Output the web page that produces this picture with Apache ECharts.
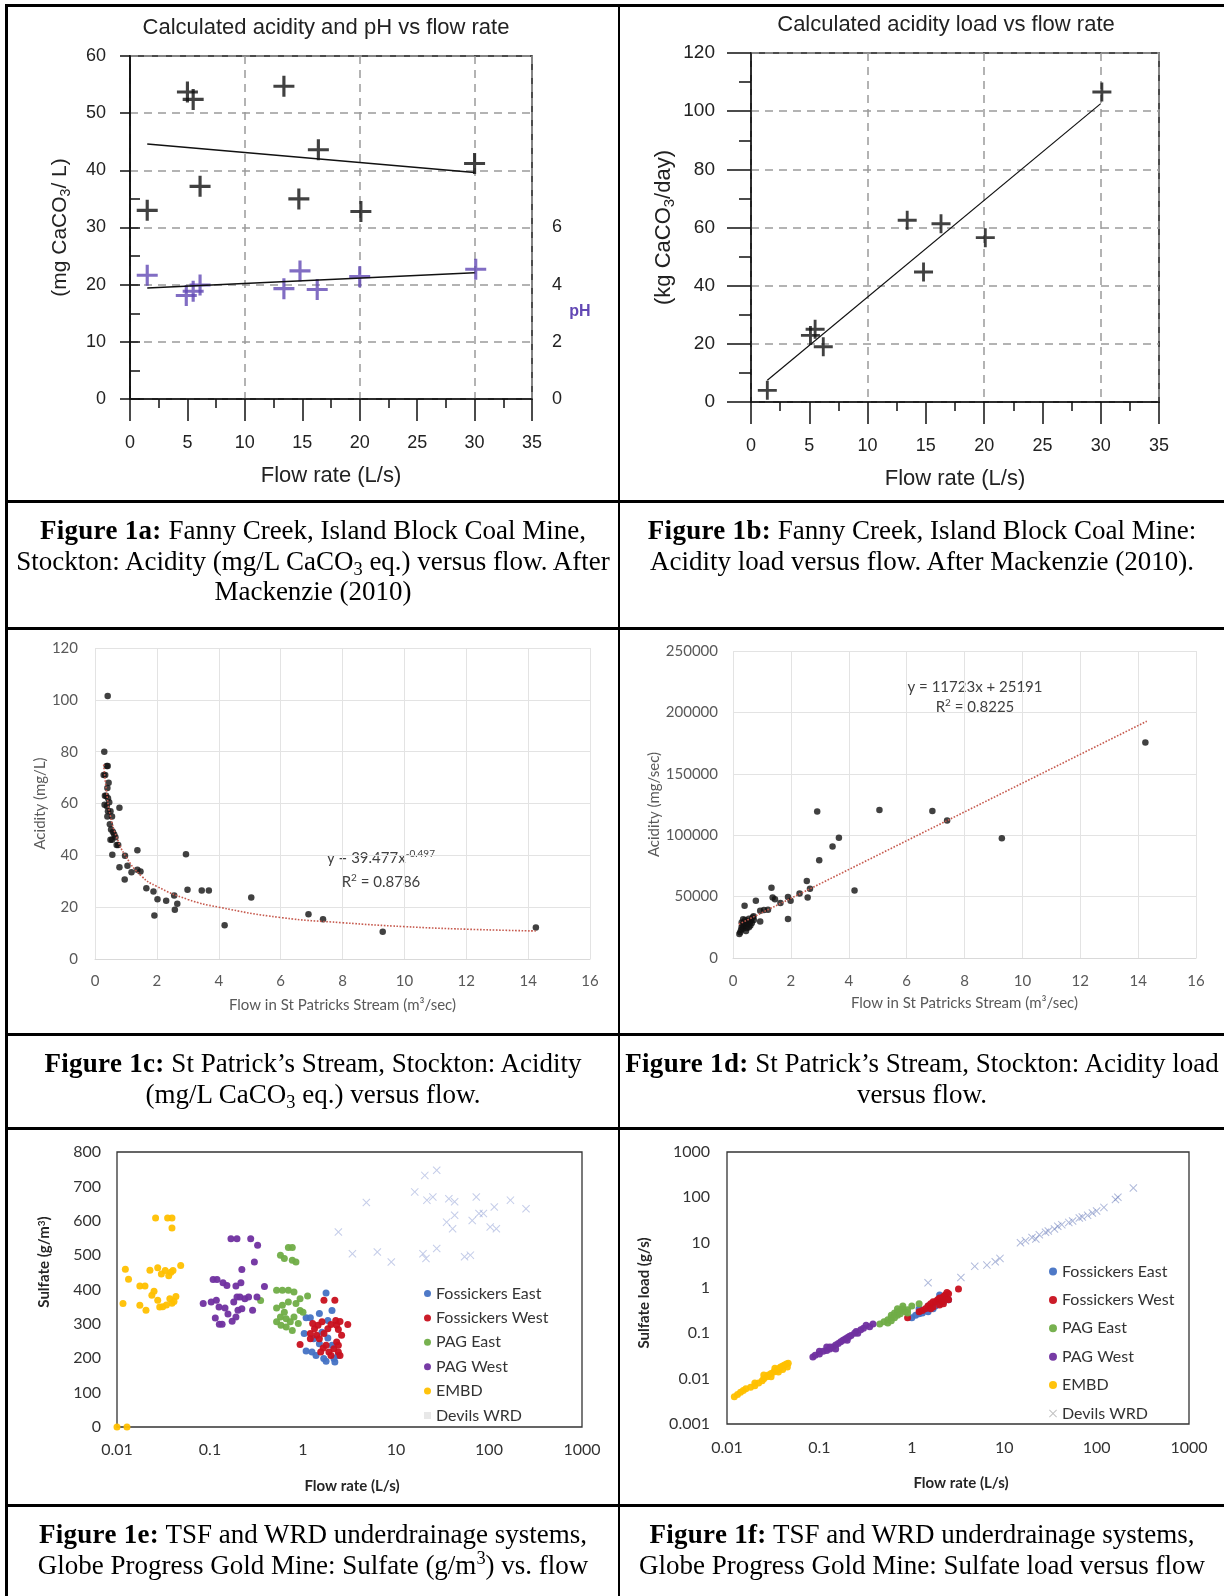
<!DOCTYPE html>
<html>
<head>
<meta charset="utf-8">
<script src="https://cdn.jsdelivr.net/npm/echarts@6/dist/echarts.min.js"></script>
<style>
  html, body { margin: 0; padding: 0; background: #fff; }
  #page { position: relative; width: 1224px; height: 1596px; overflow: hidden; }
  #chart { position: absolute; left: 0; top: 0; width: 1224px; height: 1596px; }
  .hl, .vl { position: absolute; background: #000; }
  .hl { left: 5px; width: 1219px; height: 3px; }
  .cap { position: absolute; text-align: center; white-space: nowrap; font-family: "Liberation Serif", serif;
         font-size: 27px; line-height: 30.5px; color: #000; }
  .cap b { letter-spacing: 0.3px; }
  .cap sub, .cap sup { font-size: 0.68em; line-height: 0; }
  .cap sub { vertical-align: -0.25em; }
  .cap sup { vertical-align: 0.55em; }
</style>
</head>
<body>
<div id="page">
  <div id="chart"></div>
  <div class="hl" style="top:4px"></div>
  <div class="hl" style="top:500px"></div>
  <div class="hl" style="top:627px"></div>
  <div class="hl" style="top:1033px"></div>
  <div class="hl" style="top:1127px"></div>
  <div class="hl" style="top:1504px"></div>
  <div class="vl" style="left:5px;top:4px;width:3px;height:1592px"></div>
  <div class="vl" style="left:618px;top:4px;width:2px;height:1592px"></div>

  <div class="cap" style="left:8px;top:515px;width:610px"><b>Figure 1a:</b> Fanny Creek, Island Block Coal Mine,<br>Stockton: Acidity (mg/L CaCO<sub>3</sub> eq.) versus flow. After<br>Mackenzie (2010)</div>
  <div class="cap" style="left:620px;top:515px;width:604px"><b>Figure 1b:</b> Fanny Creek, Island Block Coal Mine:<br>Acidity load versus flow. After Mackenzie (2010).</div>
  <div class="cap" style="left:8px;top:1048px;width:610px"><b>Figure 1c:</b> St Patrick’s Stream, Stockton: Acidity<br>(mg/L CaCO<sub>3</sub> eq.) versus flow.</div>
  <div class="cap" style="left:620px;top:1048px;width:604px"><b>Figure 1d:</b> St Patrick’s Stream, Stockton: Acidity load<br>versus flow.</div>
  <div class="cap" style="left:8px;top:1519px;width:610px"><b>Figure 1e:</b> TSF and WRD underdrainage systems,<br>Globe Progress Gold Mine: Sulfate (g/m<sup>3</sup>) vs. flow</div>
  <div class="cap" style="left:620px;top:1519px;width:604px"><b>Figure 1f:</b> TSF and WRD underdrainage systems,<br>Globe Progress Gold Mine: Sulfate load versus flow</div>
</div>
<script>
'use strict';

// ---- fonts / palette ----
const SANS = 'Liberation Sans';
const CAL = 'Lato';
const C = { ink: '#111', ph: '#6248b4', grid: '#9a9a9a', light: '#e3e3e3', trend: '#c65a4e',
  fosE: '#4472c4', fosW: '#c8101e', pagE: '#70ad47', pagW: '#7030a0', embd: '#ffc000', devils: 'rgba(110,130,200,0.5)' };
const PLUS = 'path://M4.25,0H5.75V4.25H10V5.75H5.75V10H4.25V5.75H0V4.25H4.25Z';
const XMARK = 'path://M0,0.9L0.9,0L5,4.1L9.1,0L10,0.9L5.9,5L10,9.1L9.1,10L5,5.9L0.9,10L0,9.1L4.1,5Z';

// ---- 1a: acidity and pH vs flow (Fanny Creek) ----
const aFlow = [1.5, 5.0, 5.5, 6.1, 13.4, 14.7, 16.4, 20.1, 30.0];
const aAcid = [33.0, 53.7, 52.4, 37.2, 54.7, 35.0, 43.6, 32.8, 41.2];
const aPhFlow = [1.5, 4.9, 5.5, 6.1, 13.4, 14.8, 16.3, 20.0, 30.1];
const aPh = [4.33, 3.62, 3.77, 3.99, 3.86, 4.48, 3.83, 4.28, 4.54];
const aAcidTrendX = [1.5, 30];
const aAcidTrendY = [44.6, 39.6];
const aPhTrendX = [1.5, 30];
const aPhTrendY = [3.88, 4.42];
const aPhTicks = [0, 1, 2, 3, 4, 5, 6, 7];
const aPhLabels = [0, 2, 4, 6];

// ---- 1b: acidity load vs flow ----
const bFlow = [1.4, 5.1, 5.5, 6.2, 13.4, 14.8, 16.3, 20.1, 30.1];
const bLoad = [4.0, 22.9, 25.0, 19.0, 62.5, 44.7, 61.3, 56.5, 106.6];
const bTrendX = [1.4, 30];
const bTrendY = [7.5, 102.6];

// ---- 1c: St Patricks acidity vs flow ----
const cFlow = [0.41, 0.30, 0.28, 0.33, 0.38, 0.41, 0.44, 0.40, 0.32, 0.36, 0.42, 0.31, 0.38, 0.46, 0.42,
  0.50, 0.40, 0.55, 0.48, 0.52, 0.58, 0.62, 0.66, 0.55, 0.50, 0.70, 0.75, 0.79, 0.56, 0.79,
  0.97, 1.05, 0.96, 1.18, 1.37, 1.37, 1.47, 1.66, 1.89, 1.92, 2.02, 2.30, 2.56, 2.58, 2.66,
  2.94, 2.99, 3.45, 3.68, 4.19, 5.05, 6.90, 7.37, 9.30, 14.25];
const cAcid = [101.5, 80, 71, 71, 74.5, 74.5, 68, 66, 63, 63, 62, 59.5, 59, 60.5, 57,
  57, 55, 55, 52, 50, 49, 48, 47, 46, 46, 44, 44, 58.4, 40.2, 35.4,
  39.8, 36, 30.7, 33.5, 42, 34.4, 33.8, 27.3, 26, 16.8, 23.1, 22.5, 24.5, 19, 21.3,
  40.4, 26.7, 26.4, 26.4, 13, 23.7, 17.3, 15.3, 10.5, 12.2];
const cTrendX = [0.28, 0.4, 0.5, 0.7, 1, 1.5, 2, 3, 4, 6, 8, 10, 12, 14.3];
const cTrendY = [75, 62, 55, 47, 39.5, 32, 28, 23, 20, 16, 14, 12.5, 11.5, 10.8];

// ---- 1d: St Patricks acidity load vs flow ----
const dFlow = [14.25, 2.91, 5.06, 6.89, 7.40, 9.29, 3.66, 3.44, 2.98, 4.20, 2.55, 2.66, 2.58, 2.30, 1.90,
  1.99, 1.90, 1.64, 1.45, 1.37, 1.33, 0.40, 0.79, 0.94, 1.07, 1.21, 0.94, 0.71, 0.22, 0.25,
  0.28, 0.30, 0.33, 0.35, 0.38, 0.40, 0.42, 0.45, 0.48, 0.50, 0.52, 0.55, 0.58, 0.60, 0.62,
  0.65, 0.68, 0.72, 0.30, 0.35, 0.45, 0.55];
const dAcid = [175500, 119200, 120500, 119700, 111900, 97500, 98000, 90700, 79600, 55000, 62800, 56300, 49300, 52500, 49600,
  46600, 31700, 44700, 47900, 49300, 57200, 42500, 46600, 38500, 39000, 39300, 29800, 33900, 19500, 21000,
  23000, 25500, 27000, 24000, 29000, 26000, 31000, 28000, 24500, 30000, 27500, 32000, 29500, 26500, 30500,
  28500, 33000, 31000, 29000, 31500, 22000, 25000];
const dTrendX = [0.2, 14.3];
const dTrendY = [27500, 192800];

// ---- 1e: sulfate vs flow (Globe Progress) ----
const SERIES = ['Fossickers East', 'Fossickers West', 'PAG East', 'PAG West', 'EMBD', 'Devils WRD'];
const eFosEX = [1.77, 1.08, 1.2, 1.03, 1.08, 1.25, 1.38, 1.67, 1.77, 2.2, 2.37, 1.85, 1.6, 1.5, 2.05, 1.85, 2.05, 1.5, 1.3, 2.15];
const eFosEY = [390, 318, 318, 272, 221, 218, 208, 199, 191, 189, 208, 259, 276, 242, 238, 310, 339, 330, 257, 199];
const eFosWX = [1.68, 2.2, 3.03, 0.93, 1.2, 1.2, 1.33, 1.45, 1.6, 1.27, 1.68, 1.85, 2.0, 2.25, 2.5,
  2.3, 2.4, 1.77, 1.9, 2.0, 2.15, 2.3, 2.4, 1.55, 1.65, 2.4, 2.5, 1.5, 1.4, 2.6];
const eFosWY = [369, 369, 298, 240, 257, 272, 286, 296, 306, 301, 272, 286, 298, 310, 307,
  296, 284, 238, 218, 208, 228, 247, 238, 218, 230, 218, 208, 257, 267, 267];
const ePagEX = [0.696, 0.767, 0.572, 0.63, 0.767, 0.84, 0.35, 0.52, 0.60, 0.696, 0.80, 0.52, 0.60, 0.696, 0.84,
  0.93, 0.572, 0.66, 0.73, 0.80, 0.52, 0.58, 0.66, 0.767, 0.93, 1.0, 1.12, 0.89, 0.63];
const ePagEY = [522, 522, 500, 490, 485, 480, 368, 398, 398, 398, 393, 346, 354, 364, 359,
  373, 320, 315, 306, 320, 306, 296, 291, 281, 339, 334, 381, 301, 334];
const ePagWX = [0.168, 0.195, 0.274, 0.325, 0.30, 0.22, 0.108, 0.119, 0.138, 0.152, 0.19, 0.215, 0.385, 0.0845, 0.103,
  0.117, 0.125, 0.145, 0.114, 0.126, 0.135, 0.156, 0.173, 0.19, 0.20, 0.22, 0.287, 0.195, 0.21, 0.237, 0.26, 0.32, 0.18];
const ePagWY = [548, 548, 548, 529, 480, 458, 429, 429, 420, 412, 410, 420, 409, 359, 364,
  369, 349, 346, 317, 299, 299, 329, 308, 320, 340, 344, 340, 378, 378, 373, 378, 378, 364];
const eEmbX = [0.026, 0.035, 0.039, 0.039, 0.0123, 0.0133, 0.0176, 0.02, 0.0116, 0.0176, 0.0205, 0.0237, 0.0274, 0.0288, 0.0226,
  0.0274, 0.03, 0.033, 0.036, 0.038, 0.04, 0.0484, 0.037, 0.039, 0.041, 0.031, 0.034, 0.043, 0.025, 0.01, 0.0128];
const eEmbY = [608, 608, 608, 579, 459, 430, 410, 410, 359, 354, 340, 383, 369, 349, 456,
  463, 445, 455, 440, 450, 455, 470, 373, 360, 365, 350, 355, 380, 395, 0, 0];
const eDevX = [2.4, 3.4, 4.8, 6.3, 8.9, 15.9, 20.4, 21.5, 24.9, 27.4, 19.5, 21, 27.4, 37, 42.7,
  35, 42.7, 40.6, 54.6, 63, 73, 66, 78, 87, 103, 114, 120, 170, 250];
const eDevY = [567, 504, 653, 509, 480, 684, 732, 660, 669, 747, 504, 490, 519, 664, 655,
  596, 616, 577, 495, 500, 669, 601, 621, 621, 582, 640, 577, 660, 635];
const eXTicks = [0.01, 0.1, 1, 10, 100, 1000];

// ---- 1f: sulfate load vs flow ----
const fFosEX = [1.1, 1.2, 1.3, 1.5, 1.7, 1.8, 2.0, 2.2, 2.0, 2.3, 1.2, 1.5, 1.0, 2.5];
const fFosEY = [0.25, 0.27, 0.28, 0.3, 0.35, 0.4, 0.45, 0.5, 0.7, 0.6, 0.35, 0.4, 0.22, 0.55];
const fFosWX = [0.9, 1.2, 1.4, 1.5, 1.6, 1.7, 1.8, 1.9, 2.0, 2.1, 2.2, 2.3, 2.4, 2.5, 1.7, 2.0, 2.2, 2.5, 3.2, 1.3, 1.6, 2.4];
const fFosWY = [0.22, 0.3, 0.35, 0.4, 0.45, 0.38, 0.5, 0.55, 0.6, 0.5, 0.65, 0.7, 0.6, 0.75, 0.5, 0.42, 0.45, 0.55, 0.95, 0.32, 0.35, 0.8];
const fPagEX = [0.5, 0.55, 0.6, 0.6, 0.65, 0.7, 0.75, 0.8, 0.85, 0.9, 0.7, 0.65, 0.55, 0.6, 0.75, 0.8, 0.7, 0.9, 1.2, 1.0, 0.45];
const fPagEY = [0.18, 0.2, 0.22, 0.25, 0.28, 0.3, 0.32, 0.35, 0.3, 0.33, 0.25, 0.22, 0.17, 0.19, 0.27, 0.4, 0.35, 0.28, 0.45, 0.4, 0.16];
const fPagWX = [0.085, 0.09, 0.10, 0.11, 0.12, 0.12, 0.13, 0.14, 0.15, 0.16, 0.17, 0.18, 0.19, 0.20,
  0.21, 0.22, 0.24, 0.25, 0.26, 0.28, 0.30, 0.32, 0.35, 0.38, 0.15, 0.20, 0.10, 0.13];
const fPagWY = [0.03, 0.033, 0.035, 0.04, 0.042, 0.05, 0.045, 0.05, 0.055, 0.06, 0.065, 0.07, 0.075, 0.08,
  0.085, 0.09, 0.10, 0.11, 0.10, 0.12, 0.13, 0.15, 0.14, 0.16, 0.045, 0.07, 0.04, 0.05];
const fEmbX = [0.012, 0.013, 0.014, 0.016, 0.018, 0.02, 0.022, 0.024, 0.025, 0.027, 0.028, 0.03, 0.032, 0.034, 0.035,
  0.037, 0.038, 0.04, 0.042, 0.044, 0.046, 0.03, 0.036, 0.04, 0.025, 0.033, 0.045, 0.02, 0.015];
const fEmbY = [0.004, 0.0045, 0.005, 0.006, 0.0065, 0.007, 0.008, 0.009, 0.01, 0.011, 0.012, 0.013, 0.014, 0.015, 0.016,
  0.017, 0.018, 0.019, 0.02, 0.021, 0.022, 0.011, 0.014, 0.016, 0.012, 0.017, 0.018, 0.008, 0.0055];
const fDevX = [1.5, 3.4, 4.8, 6.5, 8, 9, 15, 17, 20, 22, 24, 28, 30, 35, 38, 42, 50, 55, 65, 70, 80, 90, 100, 120, 160, 170, 250];
const fDevY = [1.3, 1.7, 3.0, 3.2, 3.8, 4.5, 10, 11, 13, 12, 15, 17, 18, 20, 23, 25, 28, 30, 35, 37, 40, 45, 50, 60, 90, 100, 160];

// ---- helpers ----
const zip = (xs, ys) => xs.map((x, i) => [x, ys[i]]);
const plain = v => String(parseFloat(Number(v).toPrecision(6)));
const blackLine = { color: C.ink, width: 1.5 };
const dashed = { type: [8, 6], color: C.grid, width: 1.5 };
const subRich = (size, color, family) => ({
  a: { fontSize: size, fontFamily: family, color, lineHeight: size + 4, verticalAlign: 'middle' },
  s: { fontSize: Math.round(size * 0.68), fontFamily: family, color, lineHeight: Math.round(size * 0.68), verticalAlign: 'bottom' },
  p: { fontSize: Math.round(size * 0.68), fontFamily: family, color, lineHeight: Math.round(size * 0.68), verticalAlign: 'top' },
});
const txt = (x, y, text, size, family, extra = {}) => ({
  type: 'text', x, y, rotation: extra.rotation || 0, silent: true,
  style: { text, fontSize: size, fontFamily: family, fontWeight: extra.weight || 'normal', fill: extra.color || '#222',
    align: 'center', verticalAlign: 'middle', textAlign: 'center', textVerticalAlign: 'middle',
    rich: extra.rich },
});

// SigmaPlot-style axes (1a, 1b)
const spX = (grid, name) => ({
  gridIndex: grid, type: 'value', min: 0, max: 35, interval: 5,
  axisLine: { lineStyle: blackLine }, axisTick: { length: 22, lineStyle: blackLine },
  minorTick: { show: true, splitNumber: 2, length: 9, lineStyle: blackLine },
  axisLabel: { margin: 35, fontSize: 18, color: '#222', fontFamily: SANS },
  splitLine: { show: false },
  name, nameLocation: 'middle', nameGap: 66, nameTextStyle: { fontSize: 22, fontFamily: SANS, color: '#222' },
});
const spGridX = grid => ({
  gridIndex: grid, type: 'value', min: 0, max: 35, interval: 10,
  axisLine: { show: false }, axisTick: { show: false }, axisLabel: { show: false },
  splitLine: { show: true, lineStyle: dashed },
});

// Excel-style axes (1c, 1d)
const xlAxisText = { fontSize: 15, color: '#595959', fontFamily: CAL };
const eqRich = subRich(15, '#404040', CAL);

const scatterE = (name, xs, ys, color, grid) => ({
  name, type: 'scatter', xAxisIndex: grid === 'e' ? 6 : 7, yAxisIndex: grid === 'e' ? 5 : 6,
  data: zip(xs, ys), symbol: 'circle', symbolSize: 7, itemStyle: { color, opacity: 0.95 },
});

const chart = echarts.init(document.getElementById('chart'), null, { renderer: 'canvas' });
chart.setOption({
  animation: false,
  backgroundColor: '#fff',
  grid: [
    { left: 130, top: 56, width: 402, height: 343, show: true, borderColor: C.ink, borderWidth: 1.5 },
    { left: 751, top: 53, width: 408, height: 349, show: true, borderColor: C.ink, borderWidth: 1.5 },
    { left: 95, top: 648, width: 495, height: 311 },
    { left: 733, top: 651, width: 463, height: 307 },
    { left: 117, top: 1152, width: 465, height: 275, show: true, borderColor: '#333', borderWidth: 1.3 },
    { left: 727, top: 1152, width: 462, height: 272, show: true, borderColor: '#333', borderWidth: 1.3 },
  ],
  xAxis: [
    spX(0, 'Flow rate (L/s)'),
    spGridX(0),
    spX(1, 'Flow rate (L/s)'),
    spGridX(1),
    { gridIndex: 2, type: 'value', min: 0, max: 16, interval: 2,
      axisLine: { lineStyle: { color: '#d9d9d9' } }, axisTick: { show: false },
      axisLabel: { ...xlAxisText, margin: 15 }, splitLine: { lineStyle: { color: C.light } },
      name: 'Flow in St Patricks Stream (m³/sec)', nameLocation: 'middle', nameGap: 39, nameTextStyle: xlAxisText },
    { gridIndex: 3, type: 'value', min: 0, max: 16, interval: 2,
      axisLine: { lineStyle: { color: '#d9d9d9' } }, axisTick: { show: false },
      axisLabel: { ...xlAxisText, margin: 16 }, splitLine: { lineStyle: { color: C.light } },
      name: 'Flow in St Patricks Stream (m³/sec)', nameLocation: 'middle', nameGap: 38, nameTextStyle: xlAxisText },
    { gridIndex: 4, type: 'log', logBase: 10, min: 0.01, max: 1000,
      axisLine: { show: false }, axisTick: { show: false }, splitLine: { show: false },
      axisLabel: { margin: 15, fontSize: 16, color: '#333', fontFamily: CAL, customValues: eXTicks, formatter: plain } },
    { gridIndex: 5, type: 'log', logBase: 10, min: 0.01, max: 1000,
      axisLine: { show: false }, axisTick: { show: false }, splitLine: { show: false },
      axisLabel: { margin: 16, fontSize: 16, color: '#333', fontFamily: CAL, customValues: eXTicks, formatter: plain } },
  ],
  yAxis: [
    { gridIndex: 0, type: 'value', min: 0, max: 60, interval: 10,
      axisLine: { lineStyle: blackLine }, axisTick: { length: 10, lineStyle: blackLine },
      axisLabel: { margin: 24, fontSize: 18, color: '#222', fontFamily: SANS },
      splitLine: { show: true, lineStyle: dashed },
      name: '{a|(mg CaCO}{s|3}{a|/ L)}', nameLocation: 'middle', nameGap: 57,
      nameTextStyle: { rich: subRich(21, '#222', SANS) } },
    { gridIndex: 0, type: 'value', position: 'right', min: 0, max: 12, interval: 1,
      axisLine: { lineStyle: blackLine },
      axisTick: { length: 10, lineStyle: blackLine, customValues: aPhTicks },
      axisLabel: { margin: 20, fontSize: 18, color: '#222', fontFamily: SANS, customValues: aPhLabels },
      splitLine: { show: false } },
    { gridIndex: 1, type: 'value', min: 0, max: 120, interval: 20,
      axisLine: { lineStyle: blackLine }, axisTick: { length: 24, lineStyle: blackLine },
      minorTick: { show: true, splitNumber: 2, length: 12, lineStyle: blackLine },
      axisLabel: { margin: 36, fontSize: 19, color: '#222', fontFamily: SANS },
      splitLine: { show: true, lineStyle: dashed },
      name: '{a|(kg CaCO}{s|3}{a|/day)}', nameLocation: 'middle', nameGap: 74,
      nameTextStyle: { rich: subRich(22, '#222', SANS) } },
    { gridIndex: 2, type: 'value', min: 0, max: 120, interval: 20,
      axisLine: { show: false }, axisTick: { show: false },
      axisLabel: { ...xlAxisText, margin: 17 }, splitLine: { lineStyle: { color: C.light } },
      name: 'Acidity (mg/L)', nameLocation: 'middle', nameGap: 47, nameTextStyle: xlAxisText },
    { gridIndex: 3, type: 'value', min: 0, max: 250000, interval: 50000,
      axisLine: { show: false }, axisTick: { show: false },
      axisLabel: { ...xlAxisText, margin: 15, formatter: plain }, splitLine: { lineStyle: { color: C.light } },
      name: 'Acidity (mg/sec)', nameLocation: 'middle', nameGap: 69, nameTextStyle: xlAxisText },
    { gridIndex: 4, type: 'value', min: 0, max: 800, interval: 100,
      axisLine: { show: false }, axisTick: { show: false }, splitLine: { show: false },
      axisLabel: { margin: 16, fontSize: 16, color: '#333', fontFamily: CAL } },
    { gridIndex: 5, type: 'log', logBase: 10, min: 0.001, max: 1000,
      axisLine: { show: false }, axisTick: { show: false }, splitLine: { show: false },
      axisLabel: { margin: 17, fontSize: 16, color: '#333', fontFamily: CAL, formatter: plain } },
  ],
  legend: [
    { left: 419, top: 1279, orient: 'vertical', itemWidth: 7, itemHeight: 7, itemGap: 5.4,
      textStyle: { fontSize: 16, fontFamily: CAL, color: '#333', lineHeight: 19 },
      data: SERIES.map(n => n === 'Devils WRD'
        ? { name: n, icon: 'rect', itemStyle: { color: '#e2e2e2' } }
        : { name: n, icon: 'circle' }) },
    { left: 1044, top: 1257, orient: 'vertical', itemWidth: 8, itemHeight: 8, itemGap: 9.4,
      textStyle: { fontSize: 16, fontFamily: CAL, color: '#333', lineHeight: 19 },
      data: SERIES.map(n => n === 'Devils WRD'
        ? { name: n, icon: XMARK, itemStyle: { color: '#b4b4b4' } }
        : { name: n, icon: 'circle' }) },
  ],
  graphic: [
    txt(326, 28, 'Calculated acidity and pH vs flow rate', 22, SANS),
    txt(946, 25, 'Calculated acidity load vs flow rate', 22, SANS),
    txt(580, 312, 'pH', 16, SANS, { weight: 'bold', color: C.ph }),
    txt(381, 858, '{a|y = 39.477x}{p|-0.497}', 15, CAL, { color: '#404040', rich: eqRich }),
    txt(381, 882, '{a|R}{p|2}{a| = 0.8786}', 15, CAL, { color: '#404040', rich: eqRich }),
    txt(975, 687, 'y = 11723x + 25191', 15, CAL, { color: '#404040' }),
    txt(975, 707, '{a|R}{p|2}{a| = 0.8225}', 15, CAL, { color: '#404040', rich: eqRich }),
    txt(352, 1486, 'Flow rate (L/s)', 15, CAL, { weight: 'bold', color: '#262626' }),
    txt(44, 1262, 'Sulfate (g/m{p|3})', 15, CAL, { weight: 'bold', color: '#262626', rotation: Math.PI / 2,
      rich: { p: { fontSize: 10, fontWeight: 'bold', fontFamily: CAL, fill: '#262626', verticalAlign: 'top', lineHeight: 10 } } }),
    txt(961, 1483, 'Flow rate (L/s)', 15, CAL, { weight: 'bold', color: '#262626' }),
    txt(644, 1293, 'Sulfate load (g/s)', 15, CAL, { weight: 'bold', color: '#262626', rotation: Math.PI / 2 }),
  ],
  series: [
    // 1a
    { type: 'line', xAxisIndex: 0, yAxisIndex: 0, data: zip(aAcidTrendX, aAcidTrendY), symbol: 'none', lineStyle: blackLine },
    { type: 'line', xAxisIndex: 0, yAxisIndex: 1, data: zip(aPhTrendX, aPhTrendY), symbol: 'none', lineStyle: blackLine },
    { type: 'scatter', xAxisIndex: 0, yAxisIndex: 0, data: zip(aFlow, aAcid), symbol: PLUS, symbolSize: 21, itemStyle: { color: C.ink } },
    { type: 'scatter', xAxisIndex: 0, yAxisIndex: 1, data: zip(aPhFlow, aPh), symbol: PLUS, symbolSize: 21, itemStyle: { color: C.ph } },
    // 1b
    { type: 'line', xAxisIndex: 2, yAxisIndex: 2, data: zip(bTrendX, bTrendY), symbol: 'none', lineStyle: { color: C.ink, width: 1.2 } },
    { type: 'scatter', xAxisIndex: 2, yAxisIndex: 2, data: zip(bFlow, bLoad), symbol: PLUS, symbolSize: 19, itemStyle: { color: C.ink } },
    // 1c
    { type: 'line', xAxisIndex: 4, yAxisIndex: 3, data: zip(cTrendX, cTrendY), smooth: true, symbol: 'none',
      lineStyle: { type: 'dotted', color: C.trend, width: 1.6 } },
    { type: 'scatter', xAxisIndex: 4, yAxisIndex: 3, data: zip(cFlow, cAcid), symbol: 'circle', symbolSize: 6.5, itemStyle: { color: C.ink } },
    // 1d
    { type: 'line', xAxisIndex: 5, yAxisIndex: 4, data: zip(dTrendX, dTrendY), symbol: 'none',
      lineStyle: { type: 'dotted', color: C.trend, width: 1.6 } },
    { type: 'scatter', xAxisIndex: 5, yAxisIndex: 4, data: zip(dFlow, dAcid), symbol: 'circle', symbolSize: 6.5, itemStyle: { color: C.ink } },
    // 1e
    { name: 'Devils WRD', type: 'scatter', xAxisIndex: 6, yAxisIndex: 5, data: zip(eDevX, eDevY),
      symbol: XMARK, symbolSize: 8, itemStyle: { color: C.devils } },
    scatterE('Fossickers East', eFosEX, eFosEY, C.fosE, 'e'),
    scatterE('Fossickers West', eFosWX, eFosWY, C.fosW, 'e'),
    scatterE('PAG East', ePagEX, ePagEY, C.pagE, 'e'),
    scatterE('PAG West', ePagWX, ePagWY, C.pagW, 'e'),
    scatterE('EMBD', eEmbX, eEmbY, C.embd, 'e'),
    // 1f
    { name: 'Devils WRD', type: 'scatter', xAxisIndex: 7, yAxisIndex: 6, data: zip(fDevX, fDevY),
      symbol: XMARK, symbolSize: 8, itemStyle: { color: 'rgba(90,110,180,0.6)' } },
    scatterE('Fossickers East', fFosEX, fFosEY, C.fosE, 'f'),
    scatterE('Fossickers West', fFosWX, fFosWY, C.fosW, 'f'),
    scatterE('PAG East', fPagEX, fPagEY, C.pagE, 'f'),
    scatterE('PAG West', fPagWX, fPagWY, C.pagW, 'f'),
    scatterE('EMBD', fEmbX, fEmbY, C.embd, 'f'),
  ],
});
</script>
</body>
</html>
